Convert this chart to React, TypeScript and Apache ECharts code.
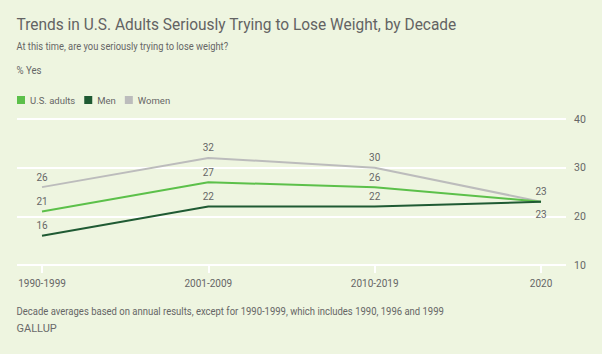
import React, { useEffect, useRef } from "react";
import * as echarts from "echarts";

const categories = ["1990-1999", "2001-2009", "2010-2019", "2020"];
const adults = [21, 27, 26, 23];
const men = [16, 22, 22, 23];
const women = [26, 32, 30, 23];
const yTicks = [10, 20, 30, 40];

const FONT = "Roboto, 'Liberation Sans', sans-serif";
const TXT = "#666666";

export default function App() {
  const ref = useRef<HTMLDivElement>(null);
  useEffect(() => {
    if (!ref.current) return;
    const chart = echarts.init(ref.current, undefined, { renderer: "svg" });
    const lbl = (pos: string, show = true, distance = 5) => ({
      show,
      position: pos,
      color: TXT,
      fontSize: 10,
      fontFamily: FONT,
      distance,
    });
    const mk = (vals: number[], last: any) =>
      vals.map((v, i) => (i === vals.length - 1 ? { value: v, label: last } : v));
    const txt = (text: string, y: number, size: number, sx: number, color = TXT, weight: any = "normal") => ({
      type: "text",
      x: 16.5,
      y,
      scaleX: sx,
      style: {
        text,
        fontSize: size,
        fontFamily: FONT,
        fontWeight: weight,
        fill: color,
        verticalAlign: "middle",
      },
    });
    chart.setOption({
      animation: false,
      backgroundColor: "#eef5e0",
      textStyle: { fontFamily: FONT },
      graphic: [
        txt("Trends in U.S. Adults Seriously Trying to Lose Weight, by Decade", 24, 17, 0.91, "#636363"),
        txt("At this time, are you seriously trying to lose weight?", 46.5, 10.5, 0.89),
        txt("% Yes", 70, 10.5, 0.92),
        txt("Decade averages based on annual results, except for 1990-1999, which includes 1990, 1996 and 1999", 311, 10, 0.95),
        txt("GALLUP", 329, 10, 1.1, "#6a6a6a", "normal"),
      ],
      legend: {
        left: 12,
        top: 90,
        icon: "rect",
        itemWidth: 8,
        itemHeight: 8,
        itemGap: 9,
        textStyle: { color: TXT, fontSize: 9.5, fontFamily: FONT },
        data: ["U.S. adults", "Men", "Women"],
      },
      grid: [
        { left: 42, right: 61, top: 119, bottom: 89 },
        { left: 17, right: 36, top: 119, bottom: 89 },
      ],
      xAxis: [
        {
          type: "category",
          gridIndex: 0,
          data: categories,
          boundaryGap: false,
          axisLine: { show: false },
          axisTick: { show: true, length: 8, lineStyle: { color: "#ffffff", width: 2 } },
          axisLabel: { color: TXT, fontSize: 10, fontFamily: FONT, margin: 13 },
        },
        { type: "value", gridIndex: 1, min: 0, max: 1, show: false },
      ],
      yAxis: [
        { type: "value", gridIndex: 0, min: yTicks[0], max: yTicks[yTicks.length - 1], interval: 10, show: false },
        {
          type: "value",
          gridIndex: 1,
          position: "right",
          min: yTicks[0],
          max: yTicks[yTicks.length - 1],
          interval: 10,
          axisLine: { show: false },
          axisTick: { show: false },
          splitLine: { show: true, lineStyle: { color: "#ffffff", width: 2 } },
          axisLabel: { color: TXT, fontSize: 10.5, fontFamily: FONT, margin: 8 },
        },
      ],
      series: [
        {
          name: "Women",
          type: "line",
          xAxisIndex: 0,
          yAxisIndex: 0,
          data: mk(women, lbl("top")),
          symbol: "circle",
          symbolSize: 0,
          showSymbol: true,
          lineStyle: { color: "#bcbcbc", width: 2 },
          itemStyle: { color: "#bcbcbc" },
          label: lbl("top"),
        },
        {
          name: "U.S. adults",
          type: "line",
          xAxisIndex: 0,
          yAxisIndex: 0,
          data: mk(adults, lbl("top", false)),
          symbol: "circle",
          symbolSize: 0,
          showSymbol: true,
          lineStyle: { color: "#5cc04a", width: 2 },
          itemStyle: { color: "#5cc04a" },
          label: lbl("top"),
        },
        {
          name: "Men",
          type: "line",
          xAxisIndex: 0,
          yAxisIndex: 0,
          data: mk(men, lbl("bottom", true, 8)),
          symbol: "circle",
          symbolSize: 0,
          showSymbol: true,
          lineStyle: { color: "#1f5a33", width: 2 },
          itemStyle: { color: "#1f5a33" },
          label: lbl("top"),
        },
      ],
    });
    return () => chart.dispose();
  }, []);
  return <div ref={ref} style={{ width: 602, height: 354, position: "absolute", left: 0, top: 0 }} />;
}
